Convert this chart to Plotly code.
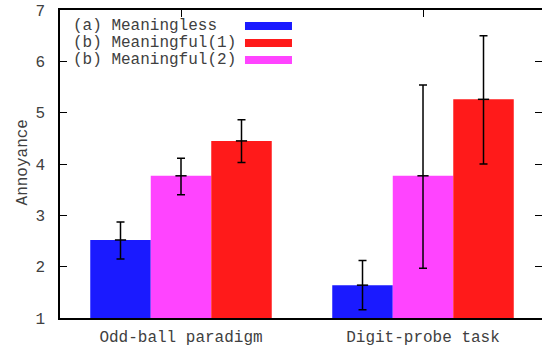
import plotly.graph_objects as go

# Conditions and measured annoyance (mean with lower/upper error limits)
categories = ["Odd-ball paradigm", "Digit-probe task"]

series_names = ["(a) Meaningless", "(b) Meaningful(2)", "(b) Meaningful(1)"]
series_colors = ["#1a1aff", "#ff44ff", "#ff1a1a"]

meaningless_mean = [2.52, 1.64]
meaningless_upper = [2.87, 2.12]
meaningless_lower = [2.15, 1.16]

meaningful2_mean = [3.77, 3.77]
meaningful2_upper = [4.11, 5.54]
meaningful2_lower = [3.40, 1.97]

meaningful1_mean = [4.45, 5.26]
meaningful1_upper = [4.86, 6.50]
meaningful1_lower = [4.03, 4.00]

# legend order as listed in the key
legend_order = ["(a) Meaningless", "(b) Meaningful(1)", "(b) Meaningful(2)"]

y_ticks = [1, 2, 3, 4, 5, 6, 7]

FONT = "Courier New, Liberation Mono, monospace"
TEXT = "#404040"

means = [meaningless_mean, meaningful2_mean, meaningful1_mean]
uppers = [meaningless_upper, meaningful2_upper, meaningful1_upper]
lowers = [meaningless_lower, meaningful2_lower, meaningful1_lower]

bar_w = 0.25
fig = go.Figure()

for k, name in enumerate(series_names):
    xs = [i + (k - 1) * bar_w for i in range(len(categories))]
    fig.add_trace(go.Bar(
        x=xs, y=[m - 1 for m in means[k]], base=1, width=bar_w,
        marker=dict(color=series_colors[k], line=dict(width=0)),
        name=name, showlegend=False,
    ))

for k, name in enumerate(series_names):
    xs = [i + (k - 1) * bar_w for i in range(len(categories))]
    fig.add_trace(go.Scatter(
        x=xs, y=means[k], mode="markers",
        marker=dict(symbol="line-ew", size=8, line=dict(width=1.5, color="black")),
        error_y=dict(type="data", symmetric=False,
                     array=[u - m for u, m in zip(uppers[k], means[k])],
                     arrayminus=[m - l for m, l in zip(means[k], lowers[k])],
                     color="black", thickness=1.5, width=4),
        showlegend=False, hoverinfo="skip",
    ))

# secondary axes only carry the mirrored inward ticks
fig.add_trace(go.Scatter(x=[0], y=[1], xaxis="x2", yaxis="y2", mode="markers",
                         marker=dict(opacity=0), showlegend=False, hoverinfo="skip"))

x_range = [-0.5, 1.4917]
y_range = [1, 7]

fig.update_layout(
    width=542, height=349,
    margin=dict(l=60, r=0, t=10, b=31),
    paper_bgcolor="white", plot_bgcolor="white",
    barmode="overlay",
    font=dict(family=FONT, size=16, color=TEXT),
    xaxis=dict(range=x_range, tickvals=list(range(len(categories))), ticktext=categories,
               ticks="", showline=True, linecolor="black", linewidth=2, mirror=True,
               showgrid=False, zeroline=False, ticklabelstandoff=3,
               tickfont=dict(family=FONT, size=16, color=TEXT)),
    yaxis=dict(range=y_range, tickvals=y_ticks, ticks="inside", ticklen=7, tickwidth=1.2,
               tickcolor="black", showline=True, linecolor="black", linewidth=1.5,
               showgrid=False, zeroline=False, ticklabelstandoff=10,
               tickfont=dict(family=FONT, size=16, color=TEXT)),
    xaxis2=dict(overlaying="x", side="top", range=x_range,
                tickvals=list(range(len(categories))), ticks="inside", ticklen=7,
                tickwidth=1.2, tickcolor="black", showticklabels=False,
                showline=False, showgrid=False, zeroline=False),
    yaxis2=dict(overlaying="y", side="right", range=y_range, tickvals=y_ticks,
                ticks="inside", ticklen=7, tickwidth=1.2, tickcolor="black",
                showticklabels=False, showline=False, showgrid=False, zeroline=False),
    showlegend=False,
)

# y axis title
fig.add_annotation(text="Annoyance", textangle=-90, xref="paper", yref="paper",
                   x=0, y=0.505, xanchor="center", yanchor="middle", xshift=-37,
                   showarrow=False, font=dict(family=FONT, size=16, color=TEXT))

# key: text on the left, colour swatch on the right
row_y = [0.9481, 0.8929, 0.8377]
for j, name in enumerate(legend_order):
    color = series_colors[series_names.index(name)]
    fig.add_annotation(text=name, xref="paper", yref="paper", x=0.0228, y=row_y[j],
                       xanchor="left", yanchor="middle", showarrow=False, height=15,
                       font=dict(family=FONT, size=16, color=TEXT))
    fig.add_shape(type="rect", xref="paper", yref="paper",
                  x0=0.3838, x1=0.4813, y0=row_y[j] - 0.013, y1=row_y[j] + 0.013,
                  fillcolor=color, line=dict(width=0))

fig.write_html("out.html")
